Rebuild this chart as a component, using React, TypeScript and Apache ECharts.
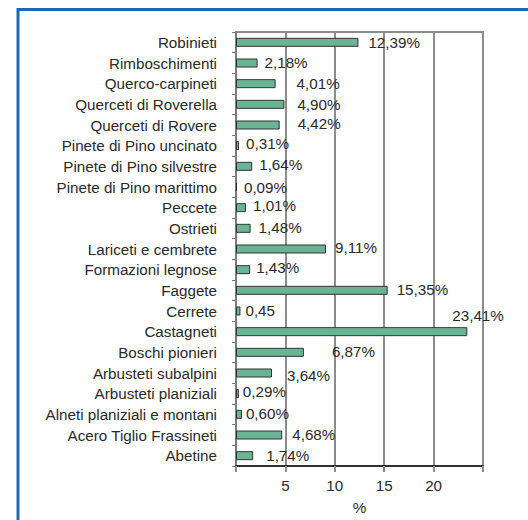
import React, { useEffect, useRef } from "react";
import * as echarts from "echarts";

const categories = [
  "Robinieti",
  "Rimboschimenti",
  "Querco-carpineti",
  "Querceti di Roverella",
  "Querceti di Rovere",
  "Pinete di Pino uncinato",
  "Pinete di Pino silvestre",
  "Pinete di Pino marittimo",
  "Peccete",
  "Ostrieti",
  "Lariceti e cembrete",
  "Formazioni legnose",
  "Faggete",
  "Cerrete",
  "Castagneti",
  "Boschi pionieri",
  "Arbusteti subalpini",
  "Arbusteti planiziali",
  "Alneti planiziali e montani",
  "Acero Tiglio Frassineti",
  "Abetine",
];

const values = [
  12.39, 2.18, 4.01, 4.9, 4.42, 0.31, 1.64, 0.09, 1.01, 1.48, 9.11, 1.43, 15.35,
  0.45, 23.41, 6.87, 3.64, 0.29, 0.6, 4.68, 1.74,
];

const labelsWithoutPercent = ["Cerrete"];

const xTickValues = [5, 10, 15, 20];
const xAxisName = "%";

// label placement tweaks (style, not data)
const valueLabelOffsets: [number, number][] = [
  [10, 0], [7, -1], [21, 0], [13, 0], [18, -2], [7, -2], [7, -2], [7, 0],
  [7, -2], [8, -1], [9, -2], [6, -2], [9, -1], [5, -1], [-15, -16], [28, -1],
  [15, 2], [4, -2], [4, -1], [10, -1], [13, 0],
];
const categoryLabelLift = [
  1, 4, 4, 5, 4, 4, 1, 0, 1, 1, 0, 3, 0, 4, 5, 6, 3, 5, 1, 1, 0,
];

const FONT = '"Liberation Sans", Arial, sans-serif';
const FS = 15.2;

export default function App() {
  const ref = useRef<HTMLDivElement>(null);

  useEffect(() => {
    if (!ref.current) return;
    const chart = echarts.init(ref.current, undefined, { renderer: "svg" });

    const fmt = (v: number, name: string) =>
      v.toFixed(2).replace(".", ",") + (labelsWithoutPercent.includes(name) ? "" : "%");

    chart.setOption({
      animation: false,
      backgroundColor: "#ffffff",
      textStyle: { fontFamily: FONT },
      grid: {
        left: 236,
        right: 45,
        top: 32,
        bottom: 45,
        containLabel: false,
        show: true,
        borderColor: "#8c8c8c",
        borderWidth: 2,
      },
      xAxis: {
        type: "value",
        min: 0,
        max: 25,
        interval: 5,
        name: xAxisName,
        nameLocation: "middle",
        nameGap: 34,
        nameTextStyle: { color: "#2a2a2a", fontSize: FS, fontFamily: FONT },
        axisLine: { show: true, lineStyle: { color: "#111", width: 1.5 } },
        axisTick: { show: true, length: 6, lineStyle: { color: "#8c8c8c", width: 2 } },
        axisLabel: {
          color: "#2a2a2a",
          fontSize: FS,
          fontFamily: FONT,
          margin: 12,
          formatter: (v: number) => (xTickValues.includes(v) ? String(v) : ""),
        },
        splitLine: { show: true, lineStyle: { color: "#8c8c8c", width: 2 } },
      },
      yAxis: {
        type: "category",
        inverse: true,
        data: categories.map((c, i) => ({
          value: c,
          textStyle: { padding: [0, 0, 2 * categoryLabelLift[i], 0] },
        })),
        axisLine: { show: true, lineStyle: { color: "#777", width: 1.5 } },
        axisTick: { show: true, length: 4, lineStyle: { color: "#777", width: 1 } },
        axisLabel: {
          color: "#2a2a2a",
          fontSize: FS,
          fontFamily: FONT,
          margin: 19,
        },
        splitLine: { show: false },
      },
      series: [
        {
          type: "bar",
          barWidth: 9,
          data: values.map((v, i) => ({
            value: v,
            label: { offset: valueLabelOffsets[i] },
          })),
          itemStyle: { color: "#6ab395", borderColor: "#333", borderWidth: 1 },
          label: {
            show: true,
            position: "right",
            distance: 0,
            color: "#2a2a2a",
            fontSize: FS,
            fontFamily: FONT,
            formatter: (p: any) => fmt(p.value, categories[p.dataIndex]),
          },
        },
      ],
      graphic: [
        {
          type: "line",
          shape: { x1: 17, y1: 9.5, x2: 528, y2: 9.5 },
          style: { stroke: "#1f68ad", lineWidth: 3 },
        },
        {
          type: "line",
          shape: { x1: 18, y1: 8, x2: 18, y2: 520 },
          style: { stroke: "#1f68ad", lineWidth: 3 },
        },
      ],
    });

    return () => chart.dispose();
  }, []);

  return (
    <div
      ref={ref}
      style={{ position: "fixed", left: 0, top: 0, width: 528, height: 520 }}
    />
  );
}
